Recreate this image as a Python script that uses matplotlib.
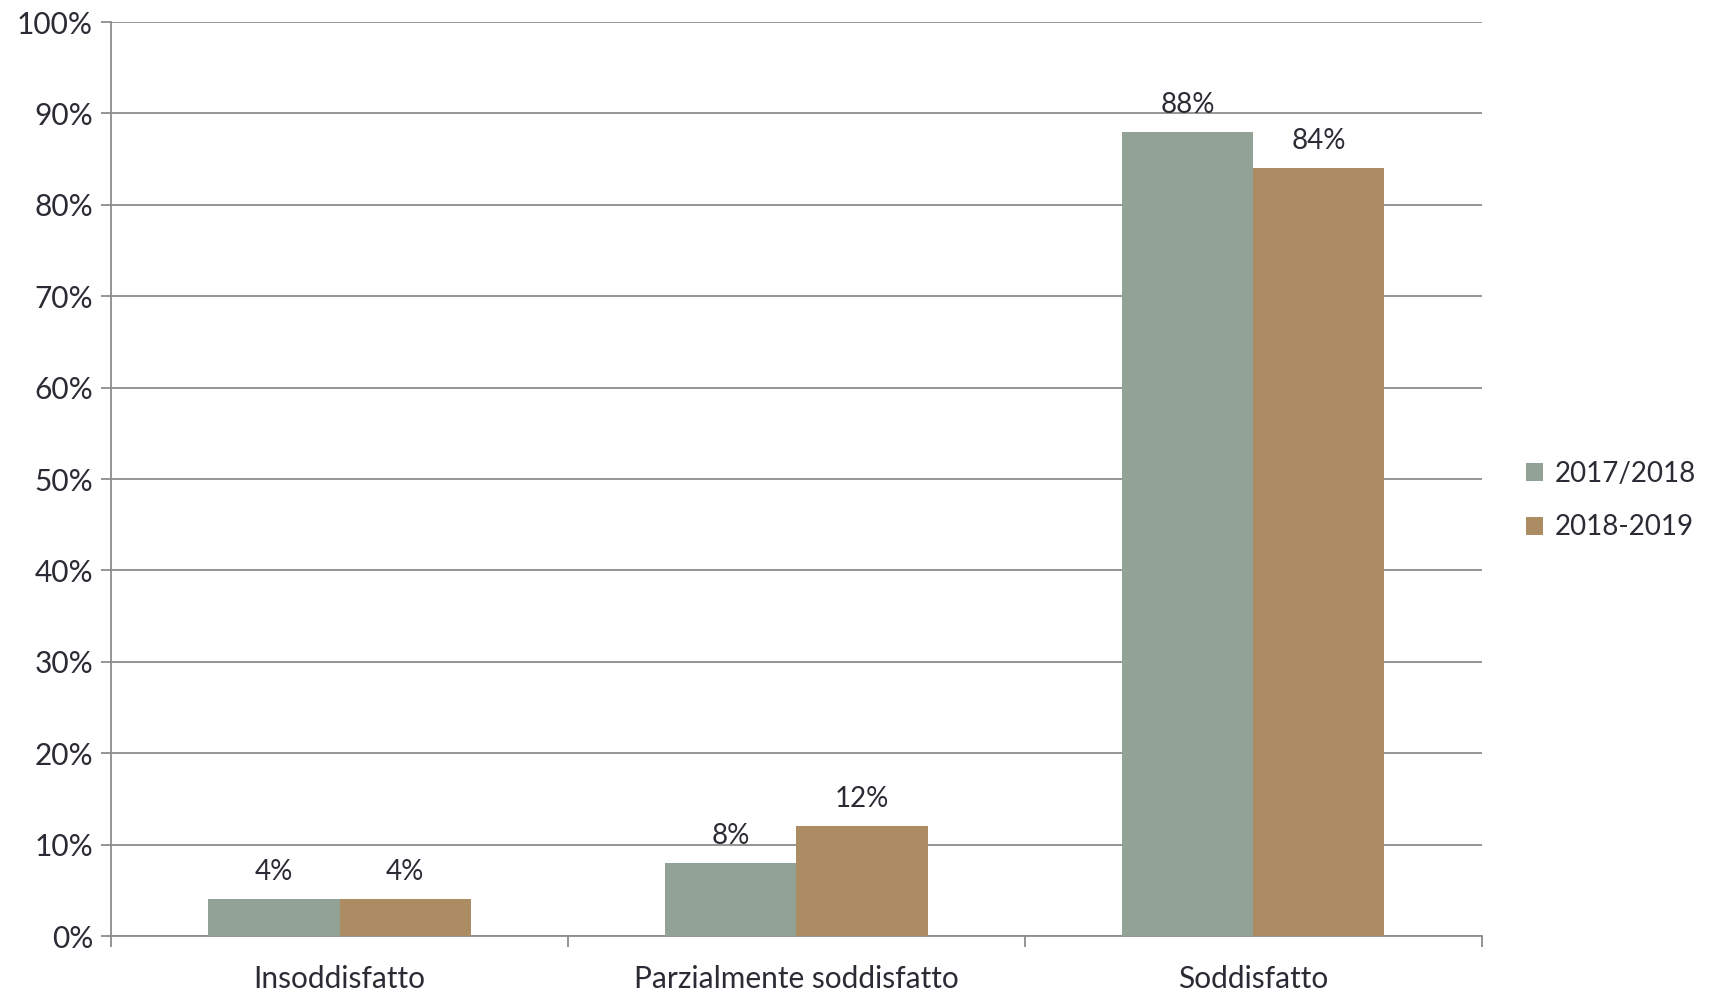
import matplotlib
matplotlib.use('Agg')
import matplotlib.pyplot as plt
import numpy as np
from matplotlib.ticker import PercentFormatter

plt.rcParams['font.family'] = ['Lato', 'DejaVu Sans']

categorie = ['Insoddisfatto', 'Parzialmente soddisfatto', 'Soddisfatto']
serie = ['2017/2018', '2018-2019']
valori_2017 = [4, 8, 88]
valori_2018 = [4, 12, 84]
colori = ['#93a297', '#ab8c63']
testo = '#2b2b35'
griglia = '#8c8c8c'

fig = plt.figure(figsize=(17.09, 9.93), dpi=100)
ax = fig.add_axes([0.065, 0.0574, 0.802, 0.9204])

x = np.arange(len(categorie))
w = 0.287
b1 = ax.bar(x - w / 2, valori_2017, w, color=colori[0], label=serie[0], zorder=3)
b2 = ax.bar(x + w / 2, valori_2018, w, color=colori[1], label=serie[1], zorder=3)

# etichette dei valori sopra le barre
for barre in (b1, b2):
    for b in barre:
        ax.annotate(f'{b.get_height():.0f}%', (b.get_x() + b.get_width() / 2, b.get_height()),
                    xytext=(0, 19.5), textcoords='offset points', ha='center', va='center',
                    fontsize=20, color=testo)

ax.set_ylim(0, 100)
ax.set_xlim(-0.5, 2.5)
ax.set_yticks(range(0, 101, 10))
ax.yaxis.set_major_formatter(PercentFormatter(decimals=0))
ax.grid(axis='y', color=griglia, linewidth=1.3, zorder=0)
ax.set_axisbelow(True)

ax.set_xticks(x)
ax.set_xticklabels(categorie)
ax.set_xticks([-0.5, 0.5, 1.5, 2.5], minor=True)
ax.tick_params(axis='x', which='major', length=0, pad=21, labelsize=21.5, labelcolor=testo)
ax.tick_params(axis='x', which='minor', length=8, width=1.3, color=griglia, direction='out')
ax.tick_params(axis='y', length=7, width=1.3, color=griglia, labelsize=21.5, labelcolor=testo, pad=6)

for s in ['top', 'right']:
    ax.spines[s].set_visible(False)
for s in ['left', 'bottom']:
    ax.spines[s].set_color(griglia)
    ax.spines[s].set_linewidth(1.3)

fig.legend(loc='center left', bbox_to_anchor=(0.893, 0.496), frameon=False, fontsize=20,
           handlelength=0.62, handleheight=0.62, handletextpad=0.4, labelspacing=1.0,
           labelcolor=testo, borderpad=0, borderaxespad=0)

fig.savefig('out.png', dpi=100)
